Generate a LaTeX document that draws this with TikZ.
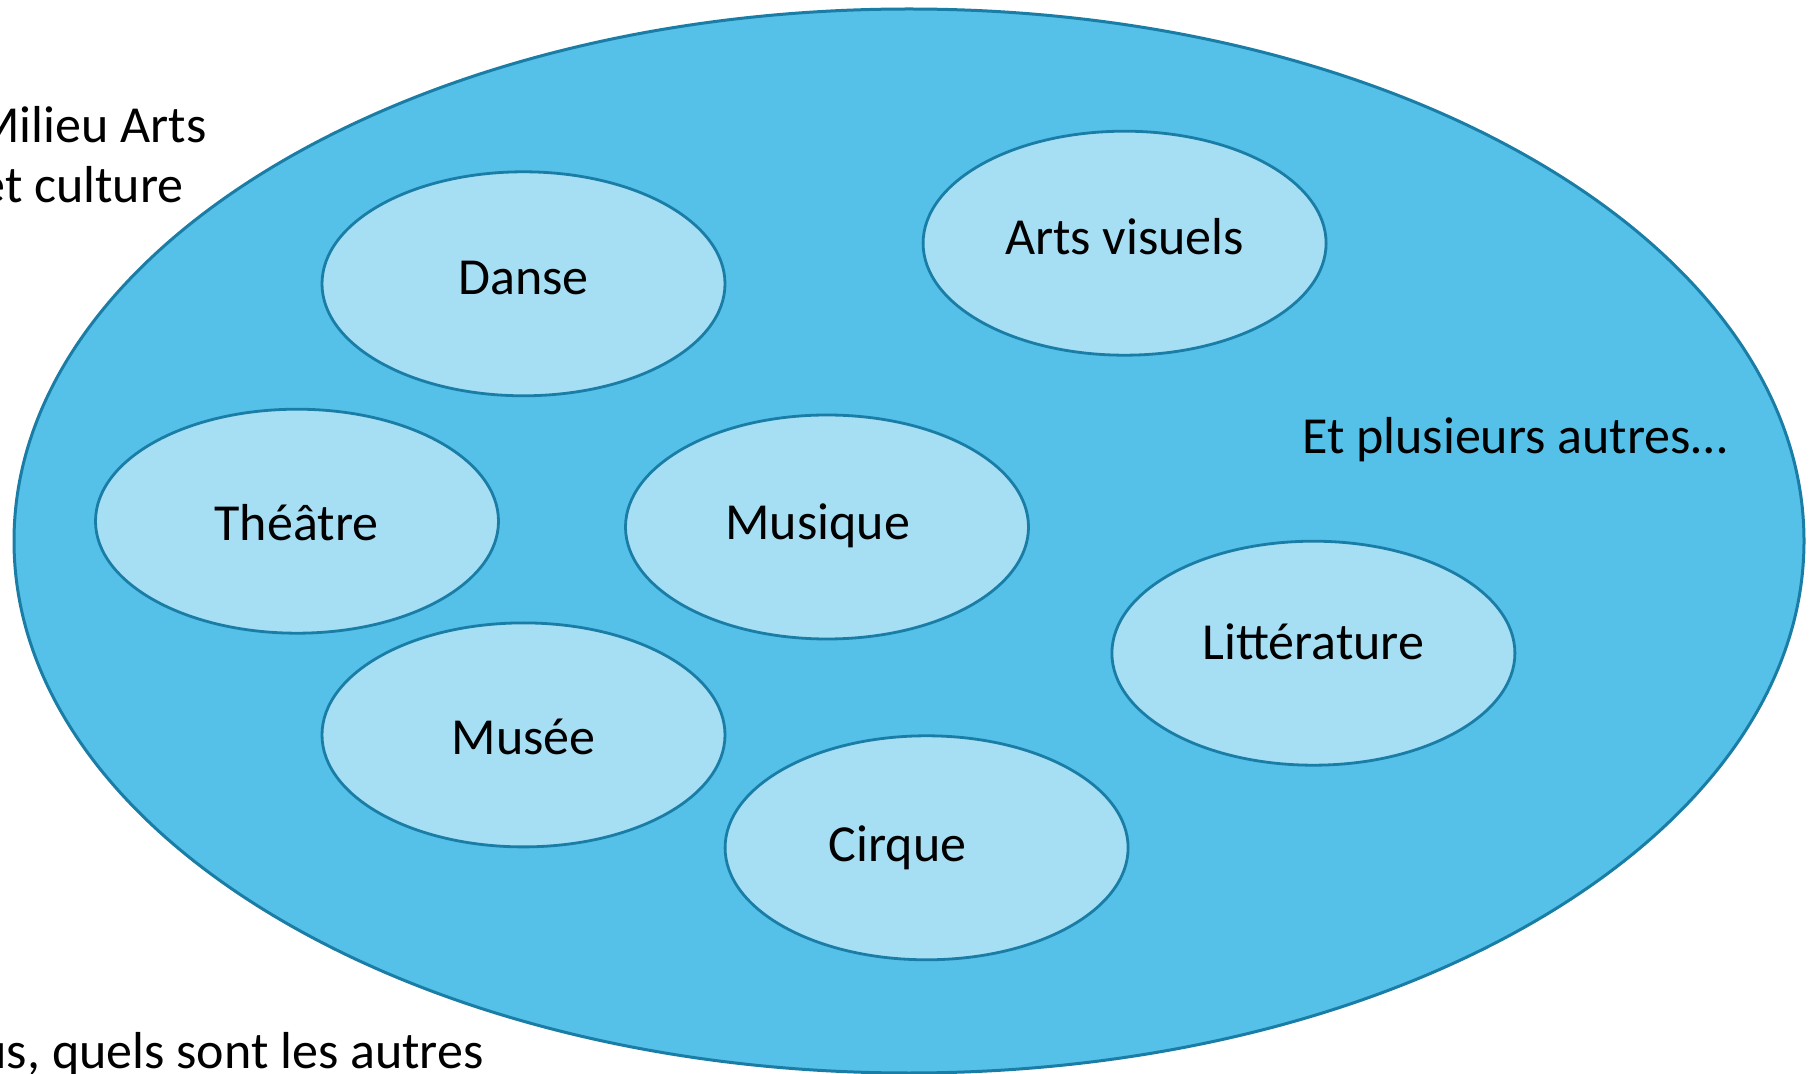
\documentclass[tikz,border=0pt]{standalone}
\usepackage{fontspec}
\setmainfont{Carlito}
\usetikzlibrary{shapes.geometric}
\definecolor{bigfill}{HTML}{55C0E8}
\definecolor{edge}{HTML}{1A7DA6}
\definecolor{smallfill}{HTML}{A6DEF4}
\tikzset{
  big/.style={ellipse, draw=edge, fill=bigfill, line width=1.5pt, minimum width=1790*0.5pt, minimum height=1064*0.5pt, inner sep=0pt},
  cat/.style={ellipse, draw=edge, fill=smallfill, line width=1.4pt, minimum width=403*0.5pt, minimum height=224*0.5pt, inner sep=0pt},
  lbl/.style={font=\fontsize{26}{31}\selectfont, inner sep=0pt, text=black},
}
\begin{document}
\begin{tikzpicture}[x=0.5pt,y=-0.5pt]
\clip (0,0) rectangle (1816,1074);
\fill[white] (0,0) rectangle (1816,1074);
\node[big] (milieu) at (909,541) {};
\node[cat] (danse) at (523.5,283.8) {};
\node[cat] (arts) at (1124.6,243.2) {};
\node[cat] (theatre) at (297,521.2) {};
\node[cat] (musique) at (827,527) {};
\node[cat] (litt) at (1313.4,653.2) {};
\node[cat] (musee) at (523.5,734.9) {};
\node[cat] (cirque) at (926.6,847.8) {};
\node[lbl] (tdanse) at (523.5,278) {Danse};
\node[lbl] (tarts) at (1124.6,237) {Arts visuels};
\node[lbl] (ttheatre) at (296.5,522.3) {Théâtre};
\node[lbl] (tmusique) at (817.7,525.5) {Musique};
\node[lbl] (tlitt) at (1313.4,642) {Littérature};
\node[lbl] (tmusee) at (523.5,736.6) {Musée};
\node[lbl] (tcirque) at (897.6,848) {Cirque};
\node[lbl, anchor=base west] (autres) at (1302,454) {Et plusieurs autres…};
\node[lbl, anchor=base east] (l1) at (207,143) {Milieu Arts};
\node[lbl, anchor=base east] (l2) at (184,203) {et culture};
\node[lbl, anchor=base east] (q) at (484,1068) {us, quels sont les autres};
\end{tikzpicture}
\end{document}
